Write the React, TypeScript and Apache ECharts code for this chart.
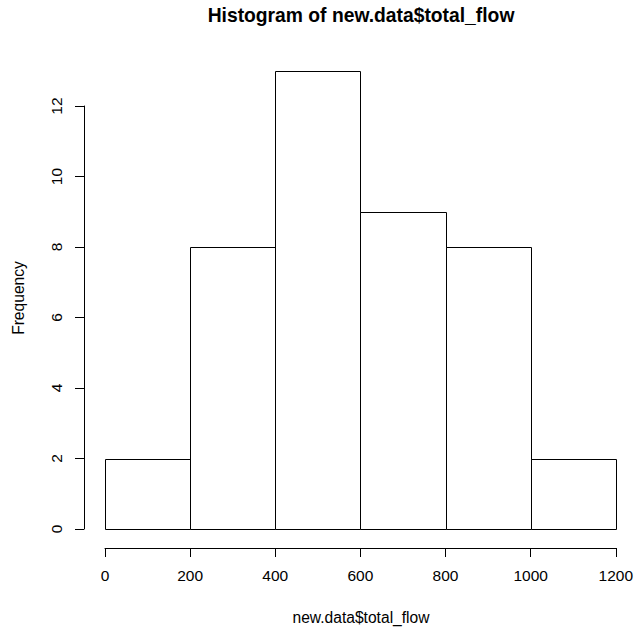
import React, { useEffect, useRef } from "react";
import * as echarts from "echarts";

const binStarts = [0, 200, 400, 600, 800, 1000];
const binEnds = [200, 400, 600, 800, 1000, 1200];
const frequencies = [2, 8, 13, 9, 8, 2];
const titleText = "Histogram of new.data$total_flow";
const xLabel = "new.data$total_flow";
const yLabel = "Frequency";

const FONT = "'Liberation Sans', Arial, sans-serif";

export default function App() {
  const ref = useRef<HTMLDivElement>(null);
  useEffect(() => {
    if (!ref.current) return;
    const chart = echarts.init(ref.current, null, { renderer: "svg" });
    const data = binStarts.map((s, i) => [s, binEnds[i], frequencies[i]]);
    chart.setOption({
      animation: false,
      backgroundColor: "#ffffff",
      textStyle: { fontFamily: FONT },
      grid: { left: 105, top: 106, width: 513, height: 423, containLabel: false },
      xAxis: {
        type: "value",
        min: 0,
        max: 1200,
        interval: 200,
        offset: 19,
        splitLine: { show: false },
        axisLine: { show: true, onZero: false, lineStyle: { color: "#000", width: 1 } },
        axisTick: { show: true, length: 9, lineStyle: { color: "#000", width: 1 } },
        axisLabel: {
          color: "#000",
          fontSize: 15.5,
          fontFamily: FONT,
          margin: 19,
          showMinLabel: true,
          showMaxLabel: true,
          formatter: (v: number) => String(v),
        },
      },
      yAxis: {
        type: "value",
        min: 0,
        max: 12,
        interval: 2,
        offset: 21,
        splitLine: { show: false },
        axisLine: { show: true, onZero: false, lineStyle: { color: "#000", width: 1 } },
        axisTick: { show: true, length: 9, lineStyle: { color: "#000", width: 1 } },
        axisLabel: {
          color: "#000",
          fontSize: 15.5,
          fontFamily: FONT,
          margin: 20,
          rotate: 90,
          formatter: (v: number) => String(v),
        },
      },
      graphic: [
        {
          type: "text",
          x: 361,
          y: 15,
          style: {
            text: titleText,
            font: `bold 19.3px ${FONT}`,
            fill: "#000",
            align: "center",
            verticalAlign: "middle",
          },
        },
        {
          type: "text",
          x: 361,
          y: 617,
          style: {
            text: xLabel,
            font: `15.6px ${FONT}`,
            fill: "#000",
            align: "center",
            verticalAlign: "middle",
          },
        },
        {
          type: "text",
          x: 18,
          y: 298,
          rotation: Math.PI / 2,
          style: {
            text: yLabel,
            font: `15.6px ${FONT}`,
            fill: "#000",
            align: "center",
            verticalAlign: "middle",
          },
        },
      ],
      series: [
        {
          type: "custom",
          clip: false,
          data,
          encode: { x: [0, 1], y: 2 },
          renderItem: (params: any, api: any) => {
            const p0 = api.coord([api.value(0), 0]);
            const p1 = api.coord([api.value(1), api.value(2)]);
            return {
              type: "rect",
              shape: {
                x: Math.round(p0[0]) + 0.5,
                y: Math.round(p1[1]) + 0.5,
                width: Math.round(p1[0]) - Math.round(p0[0]),
                height: Math.round(p0[1]) - Math.round(p1[1]),
              },
              style: { fill: "#ffffff", stroke: "#000", lineWidth: 1 },
            };
          },
        },
      ],
    });
    return () => chart.dispose();
  }, []);
  return (
    <div
      ref={ref}
      style={{ position: "fixed", left: 0, top: 0, width: 636, height: 627 }}
    />
  );
}
